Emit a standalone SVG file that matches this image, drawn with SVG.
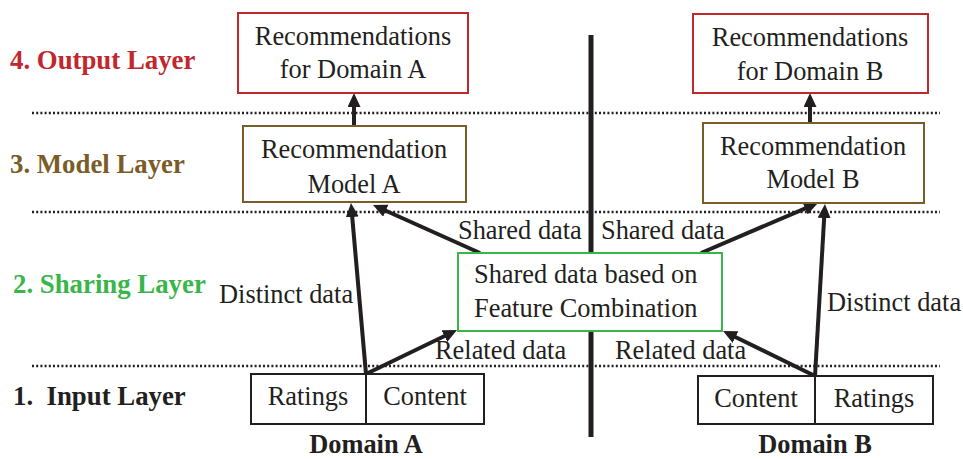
<svg xmlns="http://www.w3.org/2000/svg" width="963" height="459" viewBox="0 0 963 459">
  <defs>
    <marker id="head" markerUnits="userSpaceOnUse" markerWidth="16" markerHeight="14" refX="6" refY="6.5" orient="auto">
      <path d="M0,0 L14,6.5 L0,13 z" fill="#231f20"/>
    </marker>
    <style>
      text { font-family: "Liberation Serif", "Times New Roman", serif; fill: #231f20; }
      .body { font-size: 26.4px; }
      .mid { text-anchor: middle; }
      .layer { font-size: 26.8px; font-weight: bold; }
      .dom { font-size: 26.4px; font-weight: bold; text-anchor: middle; }
      .dots { stroke: #231f20; stroke-width: 2.5; stroke-dasharray: 2 2.2; fill: none; }
      .box { fill: #ffffff; stroke-width: 2; }
      .out { stroke: #c1272d; }
      .model { stroke: #7a5c28; }
      .share { stroke: #39b54a; }
      .inp { stroke: #231f20; }
      .arrow { stroke: #231f20; stroke-width: 4; fill: none; marker-end: url(#head); }
    </style>
  </defs>

  <!-- layer separators -->
  <g id="separators">
    <line class="dots" x1="32" y1="113" x2="940" y2="113"/>
    <line class="dots" x1="32" y1="212" x2="940" y2="212"/>
    <line class="dots" x1="32" y1="366" x2="940" y2="366"/>
    <line x1="591" y1="35" x2="591" y2="437" stroke="#231f20" stroke-width="5"/>
  </g>

  <!-- layer titles -->
  <g id="layer-titles">
    <text class="layer" x="10" y="69" style="fill:#c1272d">4. Output Layer</text>
    <text class="layer" x="10" y="173" style="fill:#7a5c28">3. Model Layer</text>
    <text class="layer" x="13" y="293" style="fill:#39b54a">2. Sharing Layer</text>
    <text class="layer" x="13" y="405" xml:space="preserve">1.  Input Layer</text>
  </g>

  <!-- connectors -->
  <g id="connectors">
    <line class="arrow" x1="354" y1="126" x2="354" y2="101"/>
    <line class="arrow" x1="810" y1="123" x2="810" y2="101"/>
    <line class="arrow" x1="366" y1="374" x2="351.7" y2="211"/>
    <line class="arrow" x1="480" y1="253" x2="380.3" y2="208.3"/>
    <line class="arrow" x1="366" y1="374" x2="449.8" y2="333.5"/>
    <line class="arrow" x1="701" y1="253" x2="810.6" y2="206.1"/>
    <line class="arrow" x1="815" y1="376" x2="824.5" y2="212"/>
    <line class="arrow" x1="815" y1="376" x2="730.2" y2="334.5"/>
  </g>

  <!-- connector labels -->
  <g id="connector-labels">
    <text class="body" x="219" y="303">Distinct data</text>
    <text class="body" x="827" y="311">Distinct data</text>
    <text class="body" x="458" y="239">Shared data</text>
    <text class="body" x="601" y="239">Shared data</text>
    <text class="body" x="435" y="359">Related data</text>
    <text class="body" x="615" y="359">Related data</text>
  </g>

  <g id="output-a">
    <rect class="box out" x="238" y="13" width="230" height="80"/>
    <text class="body mid" x="353" y="45">Recommendations</text>
    <text class="body mid" x="353" y="78">for Domain A</text>
  </g>
  <g id="output-b">
    <rect class="box out" x="693" y="14" width="235" height="79"/>
    <text class="body mid" x="810" y="46">Recommendations</text>
    <text class="body mid" x="810" y="80">for Domain B</text>
  </g>

  <g id="model-a">
    <rect class="box model" x="243" y="126" width="223" height="76"/>
    <text class="body mid" x="354" y="158">Recommendation</text>
    <text class="body mid" x="354" y="193">Model A</text>
  </g>
  <g id="model-b">
    <rect class="box model" x="703" y="123" width="221" height="80"/>
    <text class="body mid" x="813" y="155">Recommendation</text>
    <text class="body mid" x="813" y="188">Model B</text>
  </g>

  <g id="shared-data">
    <rect class="box share" x="458" y="253" width="264" height="78"/>
    <text class="body" x="474" y="283">Shared data based on</text>
    <text class="body" x="474" y="317">Feature Combination</text>
  </g>

  <g id="input-a">
    <rect class="box inp" x="251" y="374" width="115" height="50"/>
    <rect class="box inp" x="366" y="374" width="118" height="50"/>
    <text class="body mid" x="308" y="405">Ratings</text>
    <text class="body mid" x="425" y="405">Content</text>
    <text class="dom" x="366" y="453">Domain A</text>
  </g>
  <g id="input-b">
    <rect class="box inp" x="698" y="376" width="117" height="48"/>
    <rect class="box inp" x="815" y="376" width="118" height="48"/>
    <text class="body mid" x="756" y="407">Content</text>
    <text class="body mid" x="874" y="407">Ratings</text>
    <text class="dom" x="815" y="453">Domain B</text>
  </g>
</svg>
